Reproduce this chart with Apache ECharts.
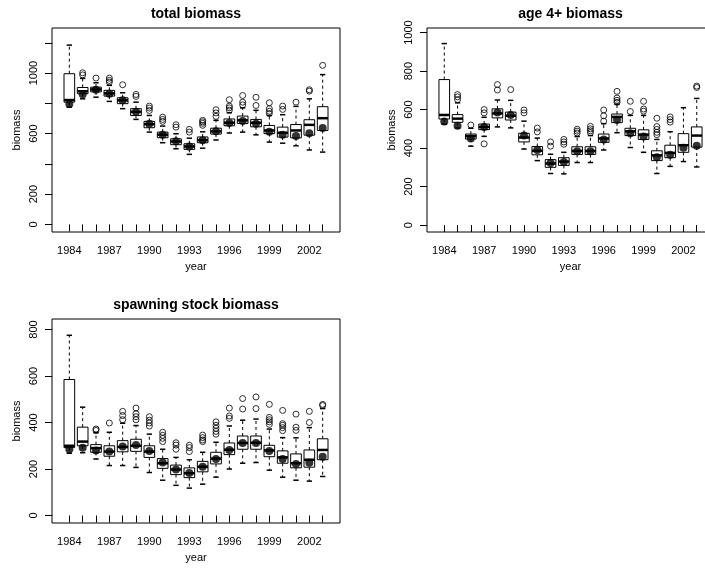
<!DOCTYPE html>
<html>
<head>
<meta charset="UTF-8">
<title>biomass</title>
<script src="https://cdn.jsdelivr.net/npm/echarts@6/dist/echarts.min.js"></script>
<style>
  html, body { margin: 0; padding: 0; background: #fff; }
</style>
</head>
<body>
<div id="main" style="width:705px;height:569px"></div>
<script>
// years and the labels R kept on the x axis
var years = [1984, 1985, 1986, 1987, 1988, 1989, 1990, 1991, 1992, 1993,
             1994, 1995, 1996, 1997, 1998, 1999, 2000, 2001, 2002, 2003];
var yearLabels = [1984, 1987, 1990, 1993, 1996, 1999, 2002];

// total biomass
var totMin = [775, 830, 841, 813, 765, 694, 610, 540, 500, 463, 504, 558, 604, 610, 592, 544, 537, 520, 492, 478];
var totQ1  = [808, 864, 876, 848, 798, 720, 639, 573, 527, 496, 540, 597, 652, 667, 645, 600, 577, 572, 590, 621];
var totMed = [822, 880, 892, 866, 820, 744, 662, 593, 548, 515, 557, 615, 672, 688, 672, 621, 606, 621, 658, 702];
var totQ3  = [996, 905, 907, 886, 837, 765, 681, 610, 566, 533, 578, 636, 697, 716, 694, 654, 643, 660, 692, 778];
var totMax = [1185, 965, 936, 919, 870, 808, 720, 650, 599, 570, 612, 688, 738, 770, 754, 720, 725, 780, 830, 990];
var totOut = [[], [988, 1002], [967], [940, 952, 967], [923], [846, 859], [753, 769, 782], [681, 694, 709],
              [643, 659], [610, 628], [655, 668, 678, 688], [714, 737, 758], [755, 770, 782, 824],
              [790, 808, 852], [786, 840], [733, 748, 765, 804], [760, 782], [808], [881, 890], [1051]];
var totEst = [795, 860, 890, 864, 820, 745, 665, 593, 550, 515, 557, 615, 670, 684, 665, 612, 593, 585, 603, 637];

// age 4+ biomass
var ageMin = [525, 504, 410, 461, 510, 505, 395, 335, 268, 266, 325, 325, 390, 480, 403, 378, 268, 305, 330, 302];
var ageQ1  = [551, 534, 447, 496, 557, 546, 432, 365, 300, 310, 367, 367, 430, 532, 465, 445, 335, 350, 378, 405];
var ageMed = [572, 553, 462, 510, 580, 568, 455, 386, 320, 330, 385, 385, 450, 562, 487, 470, 362, 375, 415, 465];
var ageQ3  = [756, 574, 473, 525, 604, 587, 477, 408, 340, 350, 407, 407, 473, 577, 503, 495, 386, 415, 475, 510];
var ageMax = [943, 635, 503, 560, 650, 648, 540, 452, 368, 378, 460, 465, 527, 628, 570, 570, 445, 485, 610, 658];
var ageOut = [[], [652, 666, 678], [520], [422, 583, 600], [702, 730], [704], [583, 598], [484, 504],
              [410, 432], [420, 432, 445], [478, 488, 498], [480, 490, 500, 513], [540, 568, 598],
              [638, 648, 660, 695], [590, 643], [592, 603, 643], [470, 482, 497, 512, 555],
              [535, 548, 562], [], [715, 722]];
var ageEst = [538, 516, 450, 510, 585, 572, 465, 390, 322, 328, 383, 383, 445, 547, 477, 460, 352, 365, 402, 412];

// spawning stock biomass
var ssbMin = [268, 270, 243, 215, 215, 207, 185, 152, 130, 118, 135, 165, 200, 225, 228, 195, 165, 152, 148, 168];
var ssbQ1  = [292, 300, 272, 255, 274, 276, 250, 203, 176, 163, 188, 222, 262, 285, 285, 253, 225, 205, 208, 240];
var ssbMed = [300, 318, 290, 275, 295, 300, 275, 225, 198, 182, 210, 245, 283, 312, 313, 280, 250, 225, 240, 282];
var ssbQ3  = [585, 380, 305, 300, 322, 328, 300, 245, 217, 205, 233, 272, 312, 342, 342, 302, 278, 265, 282, 330];
var ssbMax = [775, 466, 356, 358, 397, 387, 350, 285, 250, 240, 272, 315, 385, 410, 415, 372, 335, 334, 378, 460];
var ssbOut = [[], [], [366, 372], [398], [412, 430, 448], [412, 425, 438, 462], [385, 398, 410, 425],
              [318, 332, 345, 358], [285, 303, 313], [275, 292, 302], [318, 325, 335, 346],
              [350, 362, 375, 388, 403], [418, 428, 462], [458, 503], [460, 510],
              [392, 403, 412, 422, 478], [365, 378, 388, 395, 452], [366, 380, 436], [400, 448], [473, 478]];
var ssbEst = [285, 292, 280, 275, 297, 303, 277, 228, 198, 183, 210, 243, 282, 312, 312, 277, 243, 222, 227, 253];

var FONT = "'Liberation Sans', Arial, Helvetica, sans-serif";

function boxRows(mn, q1, md, q3, mx) {
    return years.map(function (y, i) { return [y, mn[i], q1[i], md[i], q3[i], mx[i]]; });
}
function outRows(out) {
    var rows = [];
    out.forEach(function (vals, i) {
        vals.forEach(function (v) { rows.push([years[i], v]); });
    });
    return rows;
}
function estRows(est) {
    return years.map(function (y, i) { return [y, est[i]]; });
}

// R style box: dashed whiskers, half-width staples, thick median
function renderBox(params, api) {
    var x = api.value(0);
    var lo = api.coord([x, api.value(1)]);
    var q1 = api.coord([x, api.value(2)]);
    var md = api.coord([x, api.value(3)]);
    var q3 = api.coord([x, api.value(4)]);
    var hi = api.coord([x, api.value(5)]);
    var w = api.size([0.8, 0])[0];
    var cx = lo[0];
    var solid = { stroke: '#000', lineWidth: 1, fill: null };
    var dashed = { stroke: '#000', lineWidth: 1, lineDash: [3, 3] };
    return {
        type: 'group',
        children: [
            { type: 'line', shape: { x1: cx, y1: q3[1], x2: cx, y2: hi[1] }, style: dashed },
            { type: 'line', shape: { x1: cx, y1: q1[1], x2: cx, y2: lo[1] }, style: dashed },
            { type: 'line', shape: { x1: cx - w / 4, y1: hi[1], x2: cx + w / 4, y2: hi[1] }, style: { stroke: '#000', lineWidth: 1.5 } },
            { type: 'line', shape: { x1: cx - w / 4, y1: lo[1], x2: cx + w / 4, y2: lo[1] }, style: { stroke: '#000', lineWidth: 1.5 } },
            { type: 'rect', shape: { x: cx - w / 2, y: q3[1], width: w, height: q1[1] - q3[1] }, style: solid },
            { type: 'line', shape: { x1: cx - w / 2, y1: md[1], x2: cx + w / 2, y2: md[1] }, style: { stroke: '#000', lineWidth: 2.5 } }
        ]
    };
}

function plain(v) { return String(v); }

var grids = [
    { left: 52, top: 28, width: 288, height: 204 },
    { left: 427, top: 28, width: 287, height: 204 },
    { left: 52, top: 319, width: 288, height: 204 }
];
var yRanges = [
    { min: -50, max: 1298, ticks: [0, 200, 400, 600, 800, 1000, 1200], labels: [0, 200, 600, 1000] },
    { min: -36, max: 1024, ticks: [0, 200, 400, 600, 800, 1000], labels: [0, 200, 400, 600, 800, 1000] },
    { min: -32, max: 845, ticks: [0, 200, 400, 600, 800], labels: [0, 200, 400, 600, 800] }
];
var panels = [
    { title: 'total biomass', box: boxRows(totMin, totQ1, totMed, totQ3, totMax), out: outRows(totOut), est: estRows(totEst) },
    { title: 'age 4+ biomass', box: boxRows(ageMin, ageQ1, ageMed, ageQ3, ageMax), out: outRows(ageOut), est: estRows(ageEst) },
    { title: 'spawning stock biomass', box: boxRows(ssbMin, ssbQ1, ssbMed, ssbQ3, ssbMax), out: outRows(ssbOut), est: estRows(ssbEst) }
];

var textStyle = { color: '#000', fontSize: 11, fontFamily: FONT };

var option = {
    backgroundColor: '#fff',
    animation: false,
    grid: grids.map(function (g) {
        return Object.assign({ show: true, borderColor: '#000', borderWidth: 1, backgroundColor: 'transparent', outerBoundsMode: 'none' }, g);
    }),
    xAxis: grids.map(function (g, i) {
        return {
            type: 'value', gridIndex: i, min: 1982.7, max: 2004.3,
            name: 'year', nameLocation: 'middle', nameGap: 29, nameTextStyle: textStyle,
            axisLine: { show: false },
            axisTick: { show: true, customValues: years, length: 7, lineStyle: { color: '#000', width: 1 } },
            axisLabel: Object.assign({ customValues: yearLabels, margin: 13, formatter: plain }, textStyle),
            splitLine: { show: false }
        };
    }),
    yAxis: yRanges.map(function (r, i) {
        return {
            type: 'value', gridIndex: i, min: r.min, max: r.max,
            name: 'biomass', nameLocation: 'middle', nameGap: 30, nameTextStyle: textStyle,
            axisLine: { show: false },
            axisTick: { show: true, customValues: r.ticks, length: 7, lineStyle: { color: '#000', width: 1 } },
            axisLabel: Object.assign({ customValues: r.labels, rotate: 90, margin: 13, formatter: plain }, textStyle),
            splitLine: { show: false }
        };
    }),
    graphic: panels.map(function (p, i) {
        var g = grids[i];
        return {
            type: 'text', x: g.left + g.width / 2, y: g.top - 14,
            style: { text: p.title, fill: '#000', font: 'bold 14px ' + FONT, align: 'center', verticalAlign: 'middle' }
        };
    }),
    series: []
};

panels.forEach(function (p, i) {
    option.series.push({
        type: 'custom', xAxisIndex: i, yAxisIndex: i,
        renderItem: renderBox, data: p.box,
        encode: { x: 0, y: [1, 2, 3, 4, 5] }, silent: true
    });
    option.series.push({
        type: 'scatter', xAxisIndex: i, yAxisIndex: i, data: p.out,
        symbol: 'circle', symbolSize: 6, silent: true,
        itemStyle: { color: 'rgba(0,0,0,0)', borderColor: '#000', borderWidth: 1 }
    });
    option.series.push({
        type: 'scatter', xAxisIndex: i, yAxisIndex: i, data: p.est,
        symbol: 'circle', symbolSize: 8, silent: true,
        itemStyle: { color: '#000' }
    });
});

var myChart = echarts.init(document.getElementById('main'));
myChart.setOption(option);
</script>
</body>
</html>
